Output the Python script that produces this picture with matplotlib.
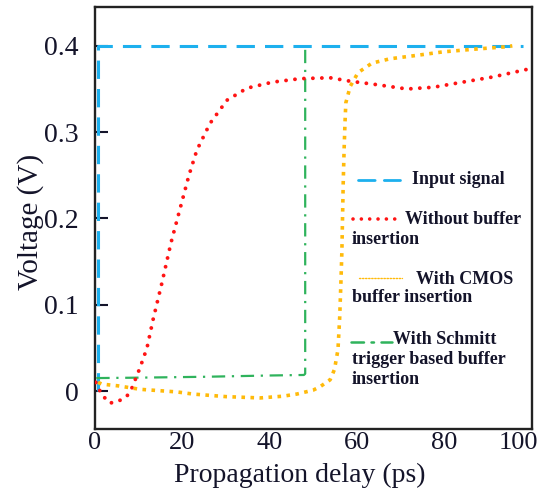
import matplotlib
matplotlib.use("Agg")
import matplotlib.pyplot as plt
from matplotlib.lines import Line2D
from matplotlib.transforms import ScaledTranslation

# Propagation delay (ps) / voltage (V)
input_t = [0.7, 0.7, 98.0]
input_v = [0.0, 0.4, 0.4]

nobuf_t = [0.2, 1.5, 3.4, 5.3, 7.3, 8.4, 10.3, 11.9, 13.3, 15.3, 17.4, 19.5, 21.5,
           23.3, 26.3, 30.2, 34.8, 40.7, 47.0, 53.8, 58.4, 64.5, 71.4, 77.4, 84.2,
           91.1, 99.1, 100.0]
nobuf_v = [0.010, -0.004, -0.014, -0.012, -0.006, 0.003, 0.027, 0.050, 0.083, 0.125,
           0.172, 0.212, 0.250, 0.279, 0.310, 0.337, 0.351, 0.358, 0.362, 0.363,
           0.359, 0.355, 0.350, 0.352, 0.358, 0.364, 0.373, 0.374]

cmos_t = [0.7, 1.6, 5.3, 10.3, 18.7, 22.4, 30.0, 37.8, 43.0, 46.2, 49.9, 51.5, 53.8,
          54.8, 55.6, 56.0, 56.3, 56.5, 56.8, 57.0, 57.2, 57.4, 58.4, 60.2, 63.4,
          67.5, 73.7, 79.6, 86.5, 94.3, 95.5]
cmos_v = [0.010, 0.008, 0.006, 0.002, -0.001, -0.0035, -0.0065, -0.008, -0.006,
          -0.0035, 0.001, 0.005, 0.013, 0.025, 0.048, 0.086, 0.130, 0.163, 0.241,
          0.279, 0.310, 0.334, 0.353, 0.369, 0.380, 0.385, 0.389, 0.393, 0.396,
          0.399, 0.400]

schmitt_t = [0.3, 10.0, 25.0, 40.0, 47.8, 48.1, 48.1]
schmitt_v = [0.015, 0.0155, 0.0165, 0.018, 0.0186, 0.020, 0.398]

xticks = [0, 20, 40, 60, 80, 100]
yticks = [0, 0.1, 0.2, 0.3, 0.4]
ytick_labels = ["0", "0.1", "0.2", "0.3", "0.4"]

BLUE = "#1db0ee"
RED = "#ff1414"
ORANGE = "#ffba0a"
GREEN = "#2fb35c"
INK = "#14142a"

plt.rcParams['font.family'] = ['Liberation Serif', 'DejaVu Serif']

fig = plt.figure(figsize=(5.43, 4.92), dpi=100)
ax = fig.add_axes([95 / 543, 1 - 429 / 492, 437 / 543, 422 / 492])

blue_ls = (0, (6, 3.3))
red_ls = (0, (0.01, 2.3))
orange_ls = (0, (1, 1.5))
green_ls = (0, (6, 3, 1, 3))

ax.plot(input_t, input_v, color=BLUE, lw=2.2, linestyle=blue_ls, zorder=2)
ax.plot(schmitt_t, schmitt_v, color=GREEN, lw=1.6, linestyle=green_ls, zorder=3)
ax.plot(nobuf_t, nobuf_v, color=RED, lw=2.8, linestyle=red_ls,
        dash_capstyle='round', zorder=4)
ax.plot(cmos_t, cmos_v, color=ORANGE, lw=2.6, linestyle=orange_ls, zorder=5)

ax.set_xlim(0, 100)
ax.set_ylim(-0.044, 0.445)
ax.set_xticks(xticks)
ax.set_yticks(yticks)
ax.set_yticklabels(ytick_labels)
ax.tick_params(axis='x', length=0, pad=2.5, labelsize=19, colors=INK)
ax.tick_params(axis='y', direction='in', length=9, width=1.5, pad=12,
               labelsize=20, colors=INK)
# the "100" label sits a bit left of its tick in the reference
last = ax.get_xticklabels()[-1]
last.set_transform(last.get_transform() + ScaledTranslation(-0.14, 0, fig.dpi_scale_trans))

for side in ['left', 'bottom', 'right', 'top']:
    ax.spines[side].set_linewidth(1.7)
    ax.spines[side].set_color('#222222')

ax.set_xlabel("Propagation delay (ps)", fontsize=20, color=INK)
ax.set_ylabel("Voltage (V)", fontsize=21, color=INK)
ax.xaxis.set_label_coords(0.469, -0.0795)
ax.yaxis.set_label_coords(-0.117, 0.49)


# hand-placed legend, pixel positions from the reference
def fx(px):
    return px / 543


def fy(py):
    return 1 - py / 492


legend_handles = [
    (358, 400, 180, BLUE, 2.0, blue_ls),
    (353, 398, 219, RED, 2.6, red_ls),
    (359, 402, 278, ORANGE, 1.0, (0, (1, 1.2))),
    (351, 392, 342, GREEN, 1.8, (0, (5, 3, 1, 3))),
]
for x0, x1, yy, col, lw, ls in legend_handles:
    fig.add_artist(Line2D([fx(x0), fx(x1)], [fy(yy), fy(yy)], color=col, lw=lw,
                          linestyle=ls, dash_capstyle='round'))

legend_texts = [
    (412, 179, "Input signal"),
    (405, 220, "Without buffer"),
    (352, 239, "insertion"),
    (416, 279, "With CMOS"),
    (352, 298, "buffer insertion"),
    (393, 340, "With Schmitt"),
    (352, 360, "trigger based buffer"),
    (352, 380, "insertion"),
]
for px, py, s in legend_texts:
    fig.text(fx(px), fy(py), s, fontsize=13, fontweight='bold', color=INK,
             ha='left', va='center')

fig.savefig("out.png", dpi=100)
